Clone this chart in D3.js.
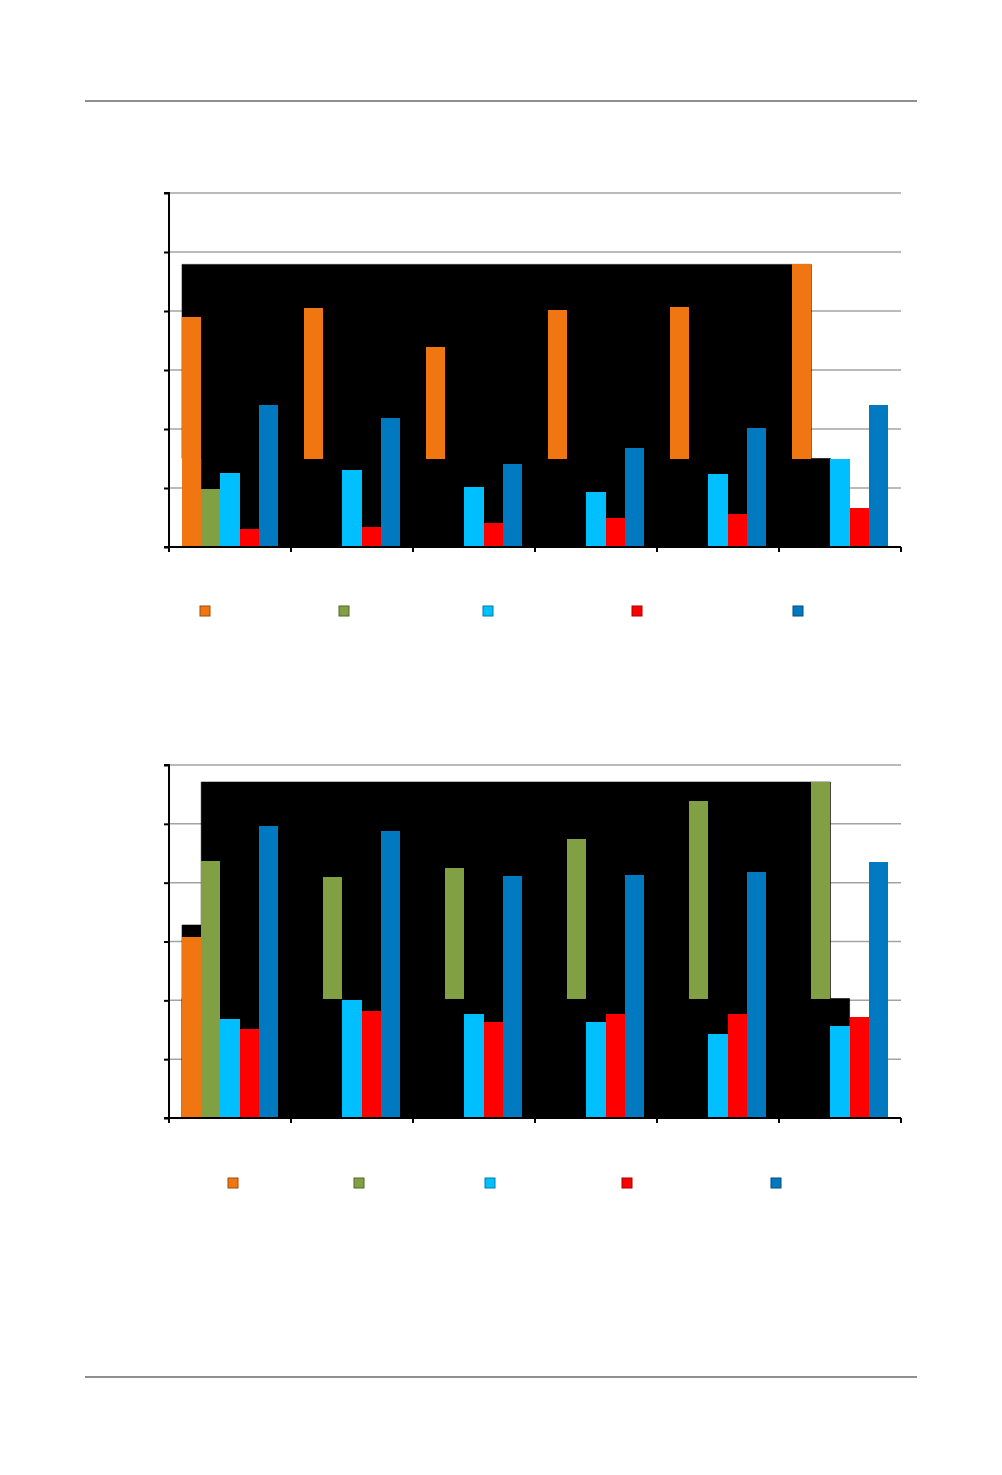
<!DOCTYPE html>
<html lang="en">
<head>
    <meta charset="UTF-8">
    <title>Grouped bars</title>
    <script src="https://d3js.org/d3.v7.min.js"></script>
    <style>
        body { margin: 0; background: #fff; }
        svg { display: block; }
        .grid line { stroke: #a3a3a3; stroke-width: 1.5px; }
        .axis path, .axis line { stroke: #000; stroke-width: 2px; }
        .page-rule { stroke: #6a6a6a; stroke-width: 1.5px; }
        .blocks rect, .bars rect { shape-rendering: crispEdges; }
    </style>
</head>
<body>
<svg width="1002" height="1475"></svg>
<script>
    // groups along the x axis (no labels printed in the source)
    const groups = [0, 1, 2, 3, 4, 5];
    const seriesKeys = ["orange", "green", "cyan", "red", "blue"];
    const seriesColors = ["#f07612", "#80a043", "#00bfff", "#ff0000", "#0079c1"];
    const yTicks = [0, 1, 2, 3, 4, 5, 6];

    // chart 1 values
    const c1Orange = [3.90, 4.05, 3.39, 4.01, 4.06, 4.79];
    const c1OrangeBase = [0, 1.5, 1.5, 1.5, 1.5, 1.5];
    const c1Green = [0.98, null, null, null, null, null];
    const c1Cyan = [1.26, 1.31, 1.01, 0.94, 1.23, 1.50];
    const c1Red = [0.30, 0.34, 0.40, 0.50, 0.56, 0.66];
    const c1Blue = [2.40, 2.18, 1.41, 1.68, 2.01, 2.41];
    // black blocks that hide parts of chart 1
    const c1Blocks = [
        { from: ["orange", 0], to: ["orange", 5], lo: 1.5, hi: 4.79 },
        { from: ["green", 0], to: ["green", 5], lo: 0, hi: 1.5 }
    ];

    // chart 2 values
    const c2Orange = [3.08, null, null, null, null, null];
    const c2Green = [4.36, 4.09, 4.25, 4.75, 5.39, 5.71];
    const c2GreenBase = [0, 2.03, 2.03, 2.03, 2.03, 2.03];
    const c2Cyan = [1.68, 2.01, 1.77, 1.63, 1.42, 1.57];
    const c2Red = [1.52, 1.82, 1.63, 1.77, 1.76, 1.71];
    const c2Blue = [4.96, 4.87, 4.11, 4.13, 4.18, 4.35];
    const c2Blocks = [
        { from: ["green", 0], to: ["green", 5], lo: 2.03, hi: 5.71 },
        { from: ["orange", 0], to: ["orange", 0], lo: 0, hi: 3.28 },
        { from: ["orange", 0], to: ["cyan", 5], lo: 0, hi: 2.03 }
    ];

    // legend marker x positions
    const c1Legend = [205, 344, 488, 637, 798];
    const c2Legend = [233, 359, 490, 627, 776];

    const svg = d3.select("svg");

    svg.append("line").attr("class", "page-rule")
        .attr("x1", 85).attr("x2", 917).attr("y1", 101).attr("y2", 101);
    svg.append("line").attr("class", "page-rule")
        .attr("x1", 85).attr("x2", 917).attr("y1", 1377).attr("y2", 1377);

    function drawChart(cfg) {
        const g = svg.append("g");
        const x0 = d3.scaleBand().domain(groups).range([169, 901]).paddingInner(0).paddingOuter(0);
        const x1 = d3.scaleBand().domain(seriesKeys).range([0, x0.bandwidth()])
            .paddingInner(0).paddingOuter(0.68);
        const y = d3.scaleLinear().domain([0, 6]).range([cfg.bottom, cfg.top]);
        const color = d3.scaleOrdinal().domain(seriesKeys).range(seriesColors);

        // gridlines
        g.append("g").attr("class", "grid")
            .selectAll("line").data(yTicks.slice(1)).join("line")
            .attr("x1", 169).attr("x2", 901)
            .attr("y1", d => y(d)).attr("y2", d => y(d));

        // black blocks, merged into one path so no seams show
        const blockPath = cfg.blocks.map(d => {
            const xa = x0(d.from[1]) + x1(d.from[0]);
            const xb = x0(d.to[1]) + x1(d.to[0]) + x1.bandwidth();
            return `M${xa},${y(d.hi)}H${xb}V${y(d.lo)}H${xa}Z`;
        }).join("");
        g.append("g").attr("class", "blocks")
            .append("path").attr("d", blockPath)
            .attr("fill", "#000").attr("fill-rule", "nonzero")
            .attr("stroke", "#000").attr("stroke-width", 0.6);

        // bars
        const rows = [];
        seriesKeys.forEach((k, si) => {
            cfg.values[si].forEach((v, gi) => {
                if (v == null) return;
                const base = cfg.bases[si] ? cfg.bases[si][gi] : 0;
                rows.push({ key: k, group: gi, v: v, base: base });
            });
        });
        g.append("g").attr("class", "bars").selectAll("rect").data(rows).join("rect")
            .attr("x", d => x0(d.group) + x1(d.key))
            .attr("width", x1.bandwidth())
            .attr("y", d => y(d.v))
            .attr("height", d => y(d.base) - y(d.v))
            .attr("fill", d => color(d.key));

        // axes
        g.append("g").attr("class", "axis")
            .attr("transform", "translate(169,0)")
            .call(d3.axisLeft(y).tickValues(yTicks).tickSize(5).tickFormat(""))
            .call(a => a.select(".domain").attr("d", `M-5,${cfg.top}H0V${cfg.bottom}`));

        const xBounds = d3.range(groups.length + 1).map(i => 169 + i * x0.step());
        const xa = g.append("g").attr("class", "axis");
        xa.append("line").attr("x1", 164).attr("x2", 901)
            .attr("y1", cfg.bottom).attr("y2", cfg.bottom);
        xa.selectAll(".tk").data(xBounds).join("line").attr("class", "tk")
            .attr("x1", d => d).attr("x2", d => d)
            .attr("y1", cfg.bottom).attr("y2", cfg.bottom + 5);

        // legend markers
        g.append("g").selectAll("rect").data(seriesKeys).join("rect")
            .attr("x", (d, i) => cfg.legendX[i] - 5)
            .attr("y", cfg.legendY - 5)
            .attr("width", 10).attr("height", 10)
            .attr("fill", d => color(d))
            .attr("stroke", d => d3.color(color(d)).darker(1.2))
            .attr("stroke-width", 1);
    }

    drawChart({
        top: 193, bottom: 547,
        values: [c1Orange, c1Green, c1Cyan, c1Red, c1Blue],
        bases: [c1OrangeBase, null, null, null, null],
        blocks: c1Blocks,
        legendX: c1Legend, legendY: 611
    });

    drawChart({
        top: 765, bottom: 1118,
        values: [c2Orange, c2Green, c2Cyan, c2Red, c2Blue],
        bases: [null, c2GreenBase, null, null, null],
        blocks: c2Blocks,
        legendX: c2Legend, legendY: 1183
    });
</script>
</body>
</html>
